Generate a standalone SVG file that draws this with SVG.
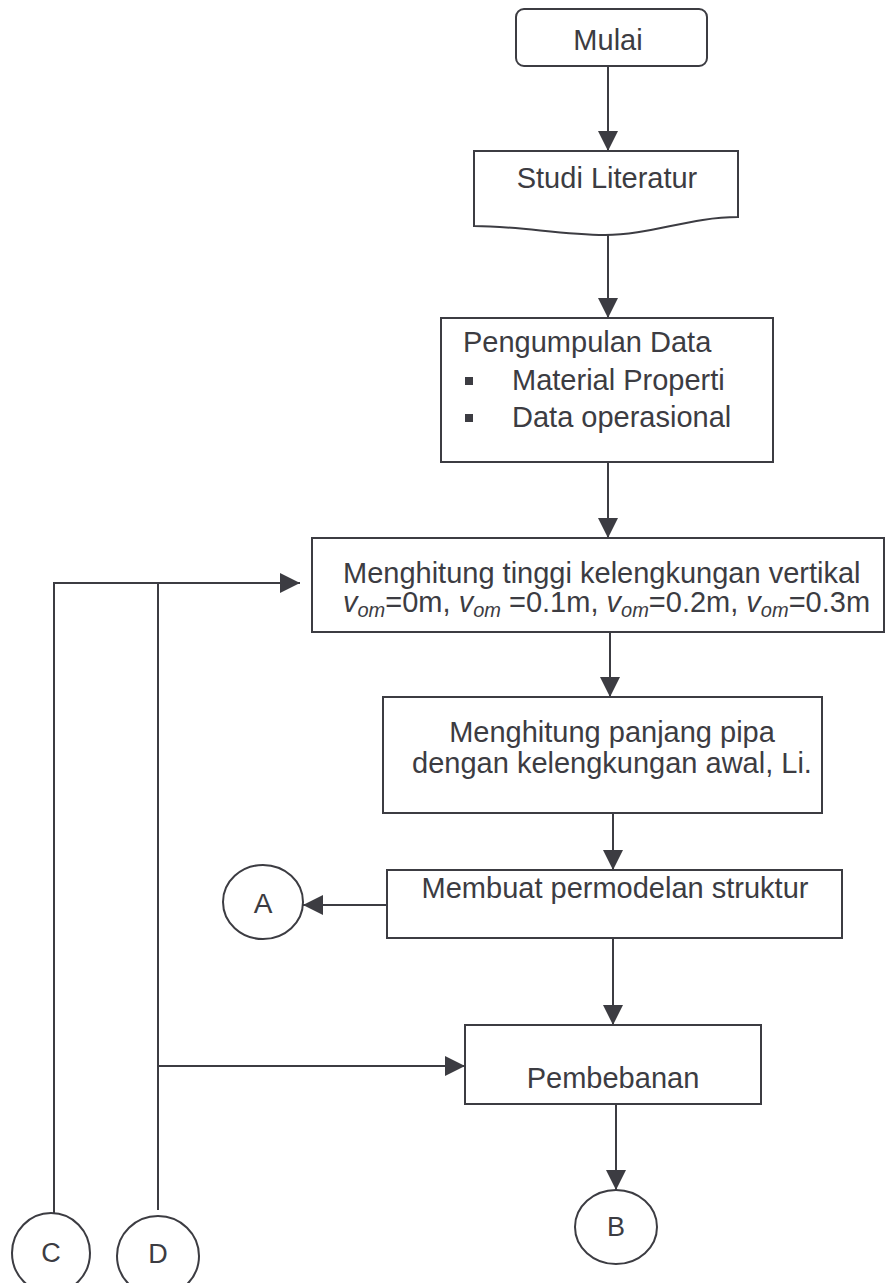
<svg xmlns="http://www.w3.org/2000/svg" width="886" height="1283" viewBox="0 0 886 1283">
<style>
.box{fill:#fff;stroke:#3c3c42;stroke-width:2}
.ln{fill:none;stroke:#3c3c42;stroke-width:2}
.t{font-family:"Liberation Sans",Arial,sans-serif;font-size:29px;fill:#3c3c42}
.c{text-anchor:middle}
.sub{font-size:20px}
.it{font-style:italic}
</style>
<defs>
<marker id="ar" markerUnits="userSpaceOnUse" markerWidth="20" markerHeight="20" refX="20" refY="10" orient="auto">
<path d="M0,0 L20,10 L0,20 Z" fill="#3c3c42"/>
</marker>
</defs>
<rect width="886" height="1283" fill="#fff"/>
<g id="connectors">
<line class="ln" x1="608" y1="66" x2="608" y2="151" marker-end="url(#ar)"/>
<line class="ln" x1="608" y1="235" x2="608" y2="318" marker-end="url(#ar)"/>
<line class="ln" x1="608" y1="462" x2="608" y2="538" marker-end="url(#ar)"/>
<line class="ln" x1="610" y1="632" x2="610" y2="697" marker-end="url(#ar)"/>
<line class="ln" x1="613" y1="813" x2="613" y2="870" marker-end="url(#ar)"/>
<line class="ln" x1="387" y1="905" x2="303" y2="905" marker-end="url(#ar)"/>
<line class="ln" x1="613" y1="938" x2="613" y2="1025" marker-end="url(#ar)"/>
<line class="ln" x1="616" y1="1104" x2="616" y2="1190" marker-end="url(#ar)"/>
<polyline class="ln" points="54,1213 54,583 300,583" marker-end="url(#ar)"/>
<line class="ln" x1="158" y1="583" x2="158" y2="1210"/>
<line class="ln" x1="158" y1="1066" x2="465" y2="1066" marker-end="url(#ar)"/>
</g>
<g id="mulai">
<rect class="box" x="516" y="9" width="191" height="57" rx="8"/>
<text class="t c" x="608" y="50">Mulai</text>
</g>
<g id="studi">
<path class="box" d="M474,151 H738 V217 C690,217 650,235 605,235 C560,235 520,226 474,226 Z"/>
<text class="t c" x="607" y="188">Studi Literatur</text>
</g>
<g id="pengumpulan">
<rect class="box" x="441" y="318" width="332" height="144"/>
<text class="t" x="463" y="352">Pengumpulan Data</text>
<rect x="465" y="377" width="8" height="8" fill="#3c3c42"/>
<text class="t" x="512" y="390">Material Properti</text>
<rect x="465" y="414" width="8" height="8" fill="#3c3c42"/>
<text class="t" x="512" y="427">Data operasional</text>
</g>
<g id="tinggi">
<rect class="box" x="312" y="538" width="572" height="94"/>
<text class="t" x="343" y="583">Menghitung tinggi kelengkungan vertikal</text>
<text class="t" x="343" y="612"><tspan class="it">v</tspan><tspan class="it sub" dy="5">om</tspan><tspan dy="-5">=0m, </tspan><tspan class="it">v</tspan><tspan class="it sub" dy="5">om</tspan><tspan dy="-5"> =0.1m, </tspan><tspan class="it">v</tspan><tspan class="it sub" dy="5">om</tspan><tspan dy="-5">=0.2m, </tspan><tspan class="it">v</tspan><tspan class="it sub" dy="5">om</tspan><tspan dy="-5">=0.3m</tspan></text>
</g>
<g id="panjang">
<rect class="box" x="383" y="697" width="439" height="116"/>
<text class="t c" x="612" y="742">Menghitung panjang pipa</text>
<text class="t c" x="612" y="773">dengan kelengkungan awal, Li.</text>
</g>
<g id="membuat">
<rect class="box" x="387" y="870" width="455" height="68"/>
<text class="t c" x="615" y="898">Membuat permodelan struktur</text>
</g>
<g id="pembebanan">
<rect class="box" x="465" y="1025" width="296" height="79"/>
<text class="t c" x="613" y="1088">Pembebanan</text>
</g>
<g id="A">
<ellipse class="box" cx="263" cy="902" rx="40" ry="37"/>
<text class="t c" x="263" y="913" style="font-size:28px">A</text>
</g>
<g id="B">
<ellipse class="box" cx="616" cy="1227" rx="41" ry="37"/>
<text class="t c" x="616" y="1236" style="font-size:27px">B</text>
</g>
<g id="C">
<ellipse class="box" cx="51" cy="1253" rx="39" ry="40"/>
<text class="t c" x="51" y="1262" style="font-size:27px">C</text>
</g>
<g id="D">
<ellipse class="box" cx="158" cy="1256" rx="41" ry="40"/>
<text class="t c" x="158" y="1263" style="font-size:27px">D</text>
</g>
</svg>
